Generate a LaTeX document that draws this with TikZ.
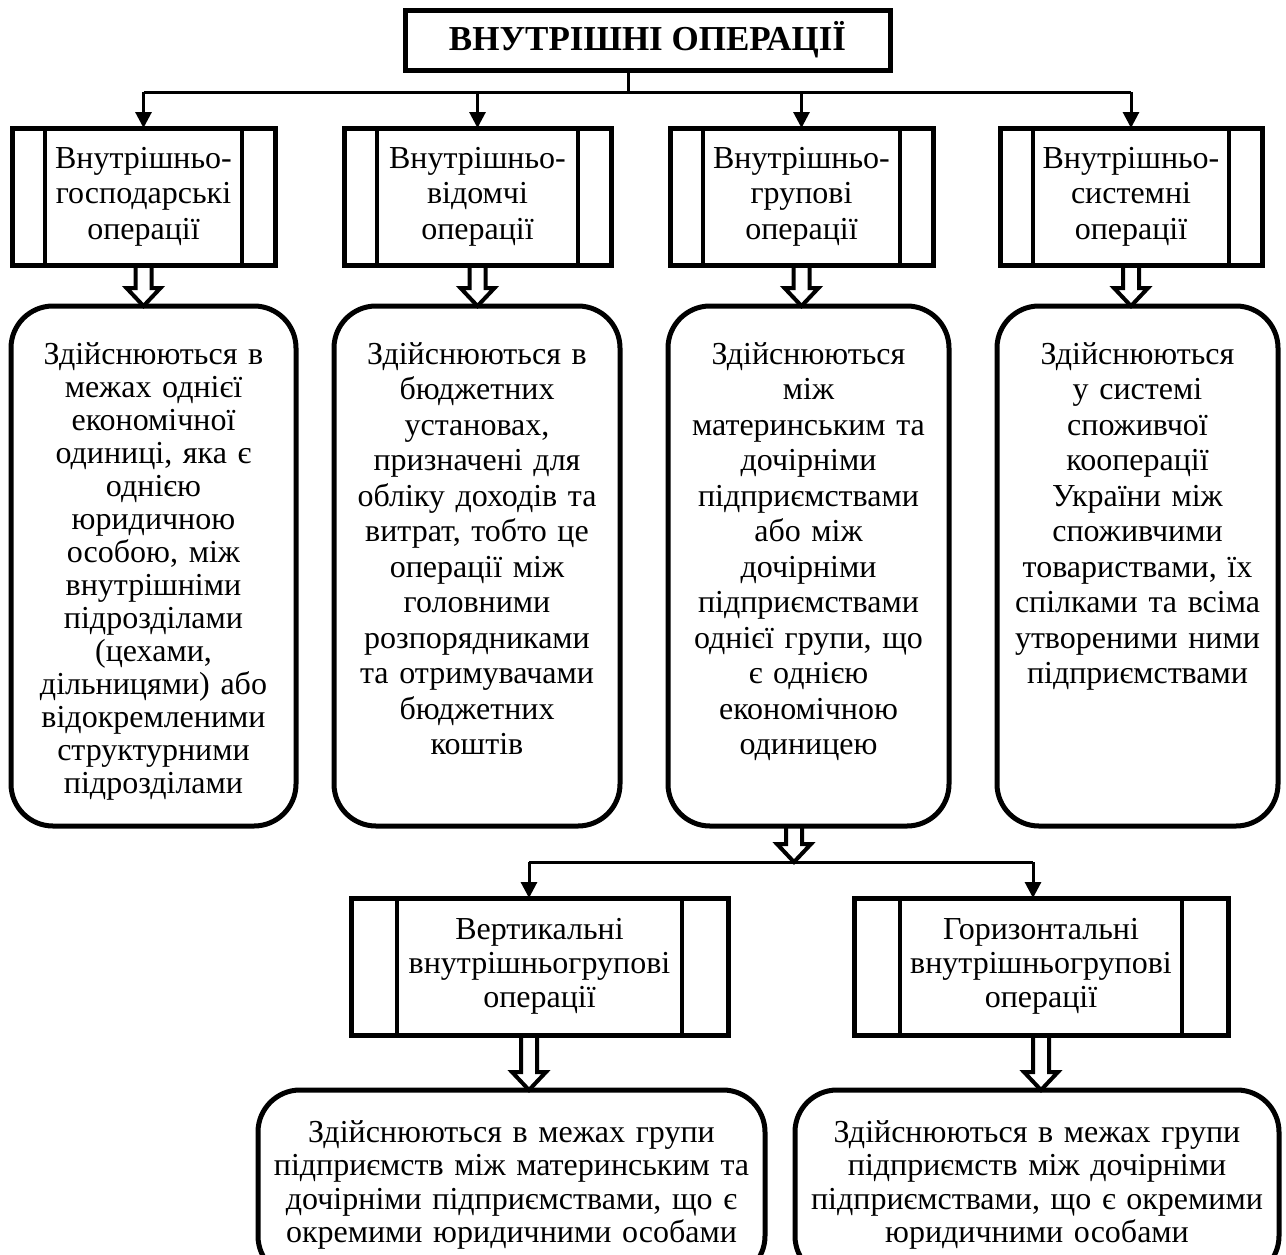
\documentclass[tikz,border=0pt]{standalone}
\usepackage{fontspec}
\setmainfont{Liberation Serif}
\usetikzlibrary{arrows.meta,calc}

\tikzset{
	line/.style={line width=1.5pt},
	arr/.style={line width=1.5pt, -{Triangle[length=8pt,width=8pt]}},
	hollow/.style={line width=2pt, line join=miter},
	gap/.store in=\procgap, gap=16.5pt,
	title/.style={draw, line width=2.5pt, inner sep=0pt, outer sep=0pt,
		minimum width=242.5pt, minimum height=30pt,
		font=\fontsize{17.5}{20}\selectfont\bfseries},
	proc/.style={draw, line width=2.5pt, outer sep=0pt, align=center,
		minimum width=#1, minimum height=68.5pt,
		font=\fontsize{16}{17.75}\selectfont,
		path picture={
			\draw[line width=2pt] ([xshift=\procgap]path picture bounding box.north west) -- ([xshift=\procgap]path picture bounding box.south west);
			\draw[line width=2pt] ([xshift=-\procgap]path picture bounding box.north east) -- ([xshift=-\procgap]path picture bounding box.south east);
		}},
	descr/.style={draw, line width=2.5pt, rounded corners=21pt, anchor=north,
		inner sep=0pt, outer sep=0pt, align=center, text width=#1,
		text height=29pt, font=\fontsize{16}{17.75}\selectfont}
}

% порожниста подвійна стрілка
\newcommand{\hollowarrow}[2]{%
	\path (#1) coordinate (ha-s) (#2) coordinate (ha-t);
	\draw[hollow] ($(ha-s)+(-4pt,0)$) -- ($(ha-t)+(-4pt,9pt)$) -- ($(ha-t)+(-8.5pt,9pt)$) -- (ha-t)
		-- ($(ha-t)+(8.5pt,9pt)$) -- ($(ha-t)+(4pt,9pt)$) -- ($(ha-s)+(4pt,0)$);
}

\begin{document}
\begin{tikzpicture}[x=0.5pt, y=-0.5pt]
	\useasboundingbox (0,0) rectangle (1286,1254);
	
	% Заголовок
	\node[title] (top) at (647.5,40) {ВНУТРІШНІ ОПЕРАЦІЇ};
	
	% Види операцій
	\node[proc=131.5pt] (b1) at (143.5,196.5) {Внутрішньо-\\господарські\\операції};
	\node[proc=133.5pt] (b2) at (477.5,196.5) {Внутрішньо-\\відомчі\\операції};
	\node[proc=131.5pt] (b3) at (801.5,196.5) {Внутрішньо-\\групові\\операції};
	\node[proc=131pt] (b4) at (1131,196.5) {Внутрішньо-\\системні\\операції};
	
	% Пояснення
	\node[descr=142.5pt, text depth=231pt, font=\fontsize{16}{16.5}\selectfont] (d1) at (153.5,306)
		{Здійснюються в\\межах однієї\\економічної\\одиниці, яка є\\однією\\юридичною\\особою, між\\внутрішніми\\підрозділами\\(цехами,\\дільницями) або\\відокремленими\\структурними\\підрозділами};
	\node[descr=143pt, text depth=231pt] (d2) at (477,306)
		{Здійснюються в\\бюджетних\\установах,\\призначені для\\обліку доходів та\\витрат, тобто це\\операції між\\головними\\розпорядниками\\та отримувачами\\бюджетних\\коштів};
	\node[descr=140.5pt, text depth=231pt] (d3) at (808.5,306)
		{Здійснюються\\між\\материнським та\\дочірніми\\підприємствами\\або між\\дочірніми\\підприємствами\\однієї групи, що\\є однією\\економічною\\одиницею};
	\node[descr=140.5pt, text depth=231pt] (d4) at (1137.5,306)
		{Здійснюються\\у системі\\споживчої\\кооперації\\України між\\споживчими\\товариствами, їх\\спілками та всіма\\утвореними ними\\підприємствами};
	
	% Внутрішньогрупові операції
	\node[proc=188.5pt, gap=23pt, font=\fontsize{16}{17}\selectfont] (b5) at (539.5,966.5) {Вертикальні\\внутрішньогрупові\\операції};
	\node[proc=187pt, gap=23pt, font=\fontsize{16}{17}\selectfont] (b6) at (1041,966.5) {Горизонтальні\\внутрішньогрупові\\операції};
	
	\node[descr=253.5pt, text height=26pt, text depth=68pt, font=\fontsize{16}{16.8}\selectfont] (e1) at (511.5,1090)
		{Здійснюються в межах групи\\підприємств між материнським та\\дочірніми підприємствами, що є\\окремими юридичними особами};
	\node[descr=242pt, text height=26pt, text depth=68pt, font=\fontsize{16}{16.8}\selectfont] (e2) at (1037,1090)
		{Здійснюються в межах групи\\підприємств між дочірніми\\підприємствами, що є окремими\\юридичними особами};
	
	% Лінії від заголовка
	\coordinate (jt) at (628,92);
	\draw[line] (jt |- top.south) -- (jt);
	\draw[line] (b1.north |- jt) -- (b4.north |- jt);
	\foreach \b in {b1,b2,b3,b4}
		\draw[arr] (\b.north |- jt) -- (\b.north);
	
	% Подвійні стрілки
	\hollowarrow{b1.south}{b1.south |- d1.north}
	\hollowarrow{b2.south}{b2.south |- d2.north}
	\hollowarrow{b3.south}{b3.south |- d3.north}
	\hollowarrow{b4.south}{b4.south |- d4.north}
	
	% Розгалуження внутрішньогрупових
	\coordinate (jn) at (794,862);
	\coordinate (jl) at (529,862);
	\coordinate (jr) at (1033,862);
	\hollowarrow{jn |- d3.south}{jn}
	\draw[line] (jl) -- (jr);
	\draw[arr] (jl) -- (jl |- b5.north);
	\draw[arr] (jr) -- (jr |- b6.north);
	
	\hollowarrow{jl |- b5.south}{jl |- e1.north}
	\hollowarrow{b6.south}{b6.south |- e2.north}
\end{tikzpicture}
\end{document}
